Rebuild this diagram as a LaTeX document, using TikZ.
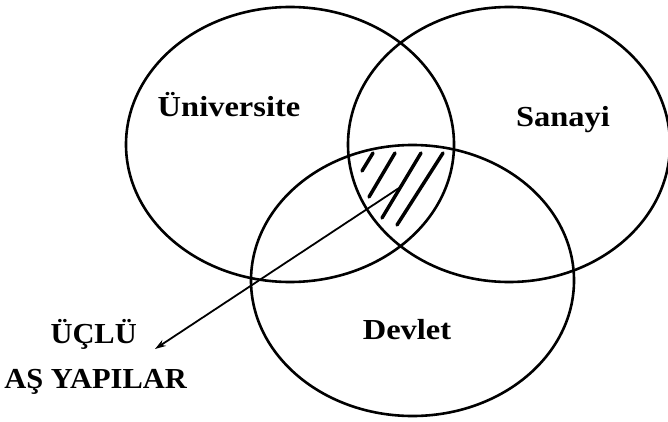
\documentclass[tikz,border=0pt]{standalone}
\usepackage{fontspec}
\setmainfont{Liberation Serif}
\newfontfamily\widelbl[FakeStretch=1.12]{Liberation Serif}
\newfontfamily\sidefont[FakeStretch=1.05]{Liberation Serif}
\usetikzlibrary{arrows.meta}
\tikzset{
  setline/.style={line width=2.6pt},
  hatchline/.style={line width=3.5pt, line cap=round},
  lbl/.style={font=\widelbl\bfseries\fontsize{29}{30}\selectfont, anchor=base, inner sep=0pt},
  sidelbl/.style={font=\sidefont\bfseries\fontsize{29}{30}\selectfont, anchor=base east, inner sep=0pt},
  pointer/.style={line width=1.8pt, -{Stealth[length=11pt,width=7pt]}}
}
\begin{document}
\begin{tikzpicture}[x=1pt,y=-1pt]
\useasboundingbox (0,0) rectangle (668,422);
% sets
\draw[setline] (290,144.5) ellipse [x radius=164, y radius=137.5];
\draw[setline] (509,144.5) ellipse [x radius=161, y radius=137.5];
\draw[setline] (412.5,280.5) ellipse [x radius=161.5, y radius=135.5];
% hatching of the triple intersection
\draw[hatchline] (373,153) -- (362,171);
\draw[hatchline] (395,153) -- (369,197);
\draw[hatchline] (421,153) -- (382,218);
\draw[hatchline] (443,153) -- (397,225);
% labels
\node[lbl] (uni) at (229,117) {Üniversite};
\node[lbl] (san) at (563,127) {Sanayi};
\node[lbl] (dev) at (407,339) {Devlet};
\node[sidelbl] (uclu) at (137,343) {ÜÇLÜ};
\node[sidelbl] (yapi) at (187,388) {AŞ YAPILAR};
% pointer
\coordinate (core) at (399,188);
\coordinate (tip) at (155,349);
\draw[pointer] (core) -- (tip);
\end{tikzpicture}
\end{document}
